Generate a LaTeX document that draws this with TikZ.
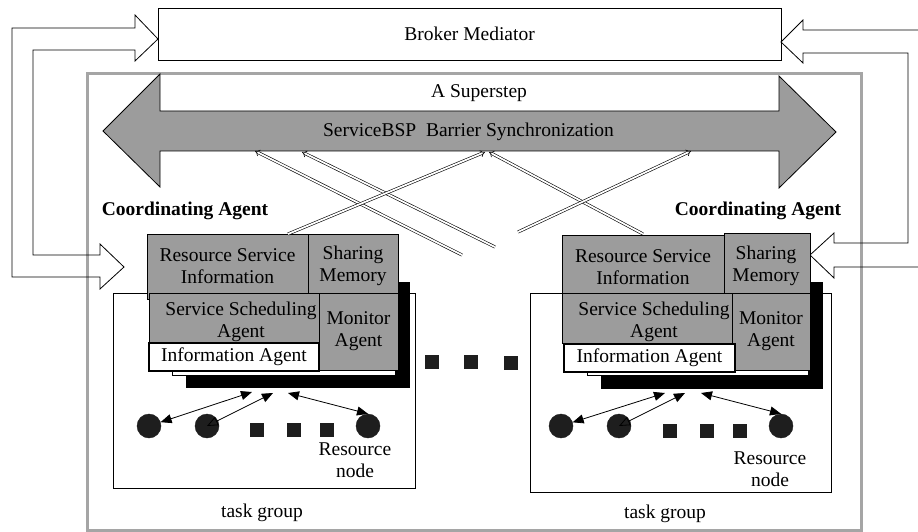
\documentclass[tikz,border=0pt]{standalone}
\usepackage{fontspec}
\setmainfont{Liberation Serif}
\usetikzlibrary{arrows.meta}
\definecolor{boxgray}{RGB}{156,156,156}
\definecolor{framegray}{RGB}{165,165,165}
\definecolor{dotc}{RGB}{30,30,30}
\tikzset{
  box/.style={draw, fill=boxgray, line width=0.8pt, inner sep=0pt, align=center},
  plainbox/.style={draw, fill=white, line width=0.8pt, inner sep=0pt},
  lbl/.style={inner sep=1pt, align=center},
  dot/.style={circle, fill=dotc, draw=dotc, minimum size=24pt, inner sep=0pt},
  sq/.style={fill=dotc, minimum size=14pt, inner sep=0pt},
  tip/.style={line width=0.8pt, {Triangle[length=11pt,width=9pt]}-{Triangle[length=11pt,width=9pt]}},
  tipopen/.style={line width=0.8pt, {Triangle[open,length=11pt,width=9pt]}-{Triangle[length=11pt,width=9pt]}},
  dbl/.style={double, double distance=1.8pt, line width=0.6pt, -{Implies[length=5pt,width=11pt]}},
  blockarrow/.style={draw, line width=0.8pt, line join=miter}
}
\begin{document}
\begin{tikzpicture}[x=1pt, y=-1pt, font=\fontsize{19.5}{22}\selectfont]
\useasboundingbox (0,0) rectangle (918,532);

% Broker mediator
\node[plainbox, minimum width=623pt, minimum height=52pt] (broker) at (469.5,34) {Broker Mediator};

% outer frame
\node[draw=framegray, line width=3pt, minimum width=774pt, minimum height=456pt, inner sep=0pt] (frame) at (474,302) {};

% left block arrows
\draw[blockarrow] (33,50) -- (135,50) -- (135,61) -- (158,39) -- (135,15) -- (135,28) -- (12,28)
  -- (12,277) -- (100,277) -- (100,289) -- (124,267) -- (100,244) -- (100,255) -- (33,255) -- cycle;
% right block arrows
\draw[blockarrow] (918,30) -- (803,30) -- (803,20) -- (781,42) -- (803,63) -- (803,53) -- (908,53)
  -- (908,243) -- (834,243) -- (834,233) -- (810,255) -- (834,278) -- (834,267) -- (918,267);

% barrier double arrow
\draw[fill=boxgray, line width=0.8pt, line join=miter] (103,131) -- (160,74) -- (160,111) -- (779,111) -- (779,76)
  -- (836,132) -- (779,188) -- (779,151) -- (160,151) -- (160,187) -- cycle;
\node[lbl] (superstep) at (479,93) {A Superstep};
\node[lbl] (bsp) at (468.5,132) {ServiceBSP\ \ Barrier Synchronization};

% ---------- left coordinating agent ----------
\node[lbl, font=\fontsize{19.5}{22}\selectfont\bfseries] (caL) at (185,211) {Coordinating Agent};
\node[plainbox, minimum width=302pt, minimum height=195pt] (tgL) at (264,390.5) {};
\node[fill=black, minimum width=224pt, minimum height=106pt, inner sep=0pt] (blkL) at (298,335) {};
\node[plainbox, minimum width=223pt, minimum height=85pt] (whtL) at (283.5,332.5) {};
\node[box, minimum width=161pt, minimum height=65pt] (rsiL) at (227.5,266.5) {Resource Service\\Information};
\node[box, minimum width=90pt, minimum height=59pt] (smL) at (353,263.5) {};
\node[lbl] (smLt) at (353,266) {Sharing\\Memory};
\node[box, minimum width=170pt, minimum height=50pt] (ssaL) at (234,318) {};
\node[lbl] (ssaLt) at (241,322) {Service Scheduling\\Agent};
\node[box, minimum width=79pt, minimum height=77pt] (monL) at (358.5,331.5) {Monitor\\Agent};
\node[plainbox, line width=1.6pt, minimum width=170pt, minimum height=28pt] (iaL) at (234,357) {Information Agent};
\node[dot] (c1L) at (149,426) {};
\node[dot] (c2L) at (207,426) {};
\node[dot] (c3L) at (368,426) {};
\node[sq] (s1L) at (257,430) {};
\node[sq] (s2L) at (294,430) {};
\node[sq] (s3L) at (327,430) {};
\coordinate (t1L) at (252,392);
\coordinate (t2L) at (273,393);
\coordinate (t3L) at (288,393);
\draw[tip] (t1L) -- (c1L);
\draw[tipopen] (c2L.center) -- (t2L);
\draw[tip] (t3L) -- (c3L.north);
\node[lbl, fill=white] (rnL) at (355,460.5) {Resource\\node};
\node[lbl] (tgLt) at (262,513) {task group};

% ---------- right coordinating agent ----------
\node[lbl, font=\fontsize{19.5}{22}\selectfont\bfseries] (caR) at (758,211) {Coordinating Agent};
\node[plainbox, minimum width=301pt, minimum height=199pt] (tgR) at (680.5,392.5) {};
\node[fill=black, minimum width=222pt, minimum height=107pt, inner sep=0pt] (blkR) at (712,335.5) {};
\node[plainbox, minimum width=221pt, minimum height=85pt] (whtR) at (697.5,332.5) {};
\node[box, minimum width=162pt, minimum height=64pt] (rsiR) at (643,267) {Resource Service\\Information};
\node[box, minimum width=86pt, minimum height=60pt] (smR) at (767,263) {};
\node[lbl] (smRt) at (766,265.5) {Sharing\\Memory};
\node[box, minimum width=170pt, minimum height=50pt] (ssaR) at (647,318) {};
\node[lbl] (ssaRt) at (654,322) {Service Scheduling\\Agent};
\node[box, minimum width=78pt, minimum height=77pt] (monR) at (771,331.5) {Monitor\\Agent};
\node[plainbox, line width=1.6pt, minimum width=171pt, minimum height=28pt] (iaR) at (649.5,358) {Information Agent};
\node[dot] (c1R) at (561,426) {};
\node[dot] (c2R) at (619,426) {};
\node[dot] (c3R) at (781,426) {};
\node[sq] (s1R) at (670,431) {};
\node[sq] (s2R) at (707,431) {};
\node[sq] (s3R) at (740,431) {};
\coordinate (t1R) at (665,393);
\coordinate (t2R) at (685,393);
\coordinate (t3R) at (701,393);
\draw[tip] (t1R) -- (c1R);
\draw[tipopen] (c2R.center) -- (t2R);
\draw[tip] (t3R) -- (c3R.north);
\node[lbl, fill=white] (rnR) at (770,469) {Resource\\node};
\node[lbl] (tgRt) at (665,514) {task group};

% middle squares
\node[sq] (m1) at (432,362) {};
\node[sq] (m2) at (471,362) {};
\node[sq] (m3) at (511,363) {};

% double-line arrows to the barrier
\coordinate (bA) at (255,151);
\coordinate (bB) at (302,152);
\coordinate (bC) at (485,152);
\coordinate (bD) at (489,152);
\coordinate (bE) at (691,151);
\coordinate (fA) at (462,255);
\coordinate (fB) at (495,247);
\coordinate (fE) at (518,232);
\coordinate (rsiLt) at (288,234);
\coordinate (rsiRt) at (643,234);
\draw[dbl] (fA) -- (bA);
\draw[dbl] (fB) -- (bB);
\draw[dbl] (rsiLt) -- (bC);
\draw[dbl] (rsiRt) -- (bD);
\draw[dbl] (fE) -- (bE);
\end{tikzpicture}
\end{document}
